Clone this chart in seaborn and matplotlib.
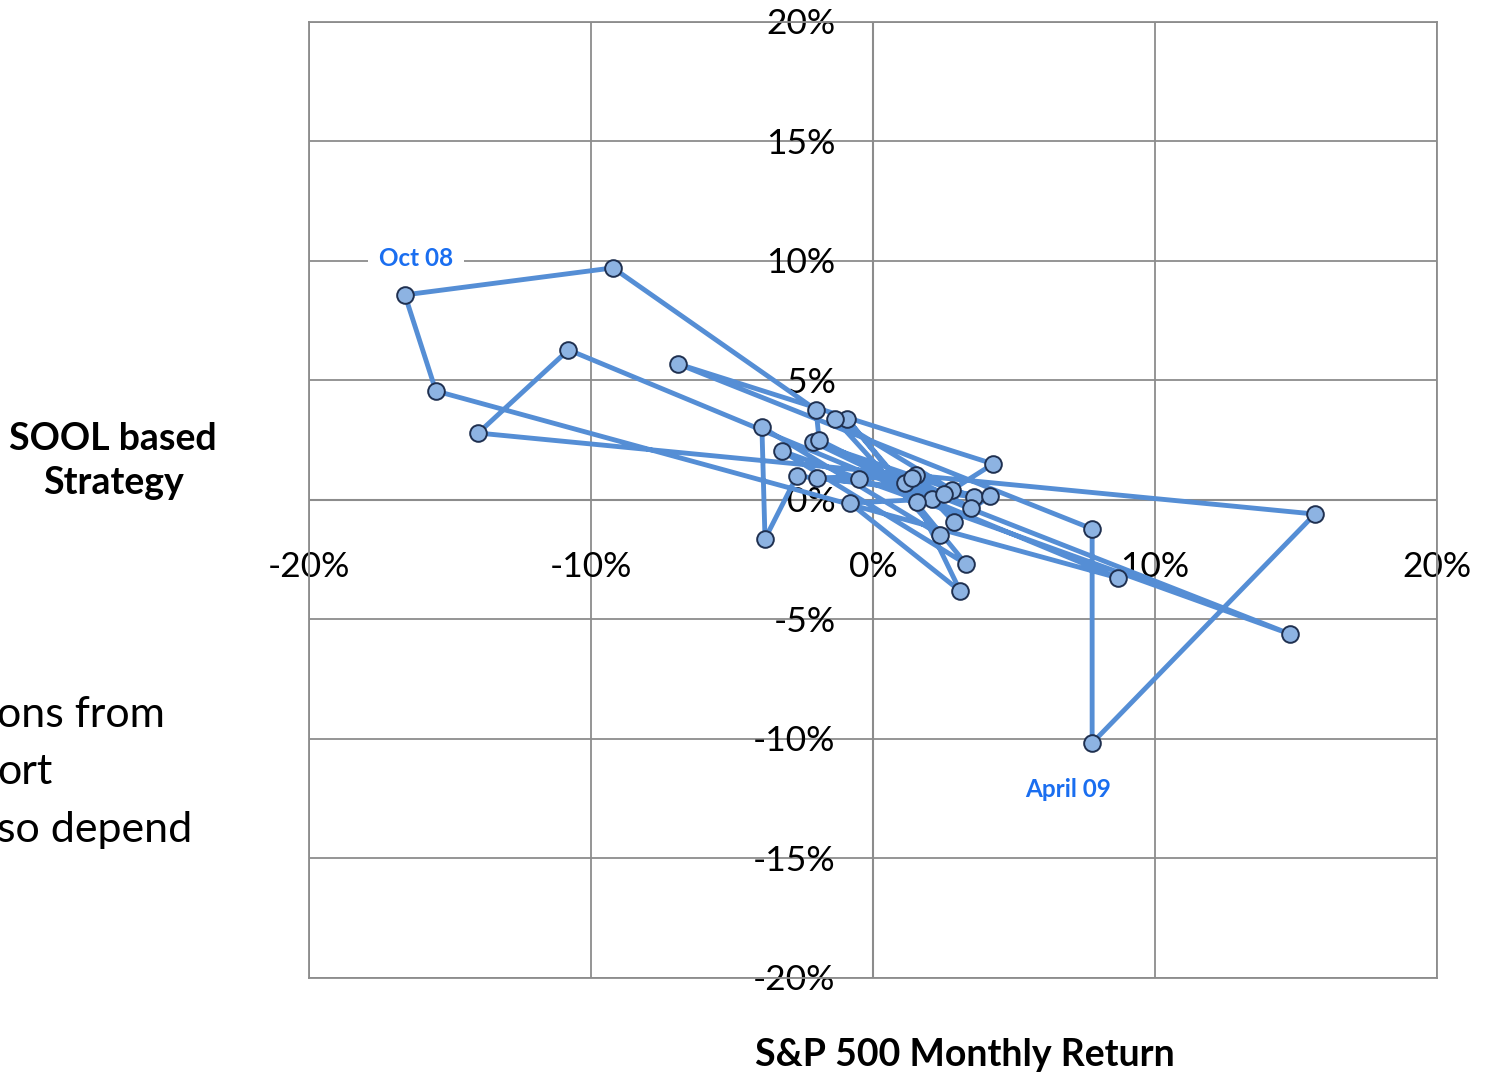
import matplotlib
matplotlib.use("Agg")
import matplotlib.pyplot as plt
import seaborn as sns
import pandas as pd

# monthly returns in percent, in time order
sp500_return = [-0.50, 1.52, -1.99, 3.58, -2.13, 2.09, -0.82, 3.09, 1.56, -0.92,
                3.30, -3.23, 14.79, 1.13, -1.91, -2.02,
                -9.22, -16.6, -15.5, 8.69, -10.8, -14.0, 15.67, 7.77, 7.77,
                -6.91, 4.26, 2.80, -1.35, 2.38, -3.94, -3.83, -2.70, 4.15,
                2.87, 1.38, 3.48, 2.52]
sool_return = [0.88, 1.05, 0.92, 0.13, 2.43, 0.04, -0.13, -3.81, -0.08, 3.39,
               -2.68, 2.05, -5.61, 0.71, 2.51, 3.77,
               9.71, 8.58, 4.56, -3.26, 6.28, 2.80, -0.59, -10.17, -1.21,
               5.69, 1.51, 0.42, 3.39, -1.46, 3.05, -1.63, 1.00, 0.17,
               -0.92, 0.92, -0.33, 0.25]

x_ticks = [-20, -10, 0, 10, 20]
y_ticks = [-20, -15, -10, -5, 0, 5, 10, 15, 20]

df = pd.DataFrame({"sp500": sp500_return, "sool": sool_return})

sns.set_style("white")
plt.rcParams['font.family'] = ['Lato', 'DejaVu Sans']
plt.rcParams['text.color'] = 'black'

fig = plt.figure(figsize=(14.87, 10.76), dpi=100)
ax = fig.add_axes([0.2078, 0.0911, 0.7586, 0.8885])

grid_col = "#8c8c8c"
ax.set_xlim(-20, 20)
ax.set_ylim(-20, 20)
ax.set_xticks(x_ticks)
ax.set_yticks(y_ticks)
ax.tick_params(length=0, labelbottom=False, labelleft=False)
ax.grid(True, color=grid_col, linewidth=1.3, zorder=0)
ax.axhline(0, color=grid_col, linewidth=1.5, zorder=0.5)
ax.axvline(0, color=grid_col, linewidth=1.5, zorder=0.5)
for s in ax.spines.values():
    s.set_color(grid_col)
    s.set_linewidth(1.3)

# tick labels sit along the zero axes
for v in x_ticks:
    ax.annotate(f"{v}%", (v, 0), xytext=(0, -48), textcoords="offset points",
                ha="center", va="center", fontsize=25.5, color="black", zorder=1)
for v in y_ticks:
    ax.annotate(f"{v}%", (0, v), xytext=(-27, -1.5), textcoords="offset points",
                ha="right", va="center", fontsize=25.5, color="black", zorder=1)

sns.lineplot(data=df, x="sp500", y="sool", sort=False, estimator=None, ax=ax,
             color="#558ed5", linewidth=3.5, marker="o", markersize=12,
             markerfacecolor="#8db3e2", markeredgecolor="#1f3050",
             markeredgewidth=1.4, zorder=3)
ax.set_xlabel("")
ax.set_ylabel("")

# callouts
ax.text(-16.2, 10.1, "Oct 08", color="#1a6ef0", fontsize=17.5, fontweight="bold",
        ha="center", va="center", zorder=2,
        bbox=dict(facecolor="white", edgecolor="none", pad=8))
ax.text(6.9, -12.1, "April 09", color="#1a6ef0", fontsize=17.5, fontweight="bold",
        ha="center", va="center", zorder=2)

fig.text(113 / 1487, 1 - 461 / 1076, "SOOL based\nStrategy", ha="center", va="center",
         fontsize=27, fontweight="bold", linespacing=1.35)
fig.text(965 / 1487, 1 - 1055 / 1076, "S&P 500 Monthly Return", ha="center", va="center",
         fontsize=27, fontweight="bold")

# cut-off slide text at left edge
fig.text(-0.002, 1 - 715 / 1076, "ons from", ha="left", va="center", fontsize=31)
fig.text(-0.002, 1 - 772 / 1076, "ort", ha="left", va="center", fontsize=31)
fig.text(-0.002, 1 - 830 / 1076, "so depend", ha="left", va="center", fontsize=31)

fig.savefig("out.png", dpi=100)
